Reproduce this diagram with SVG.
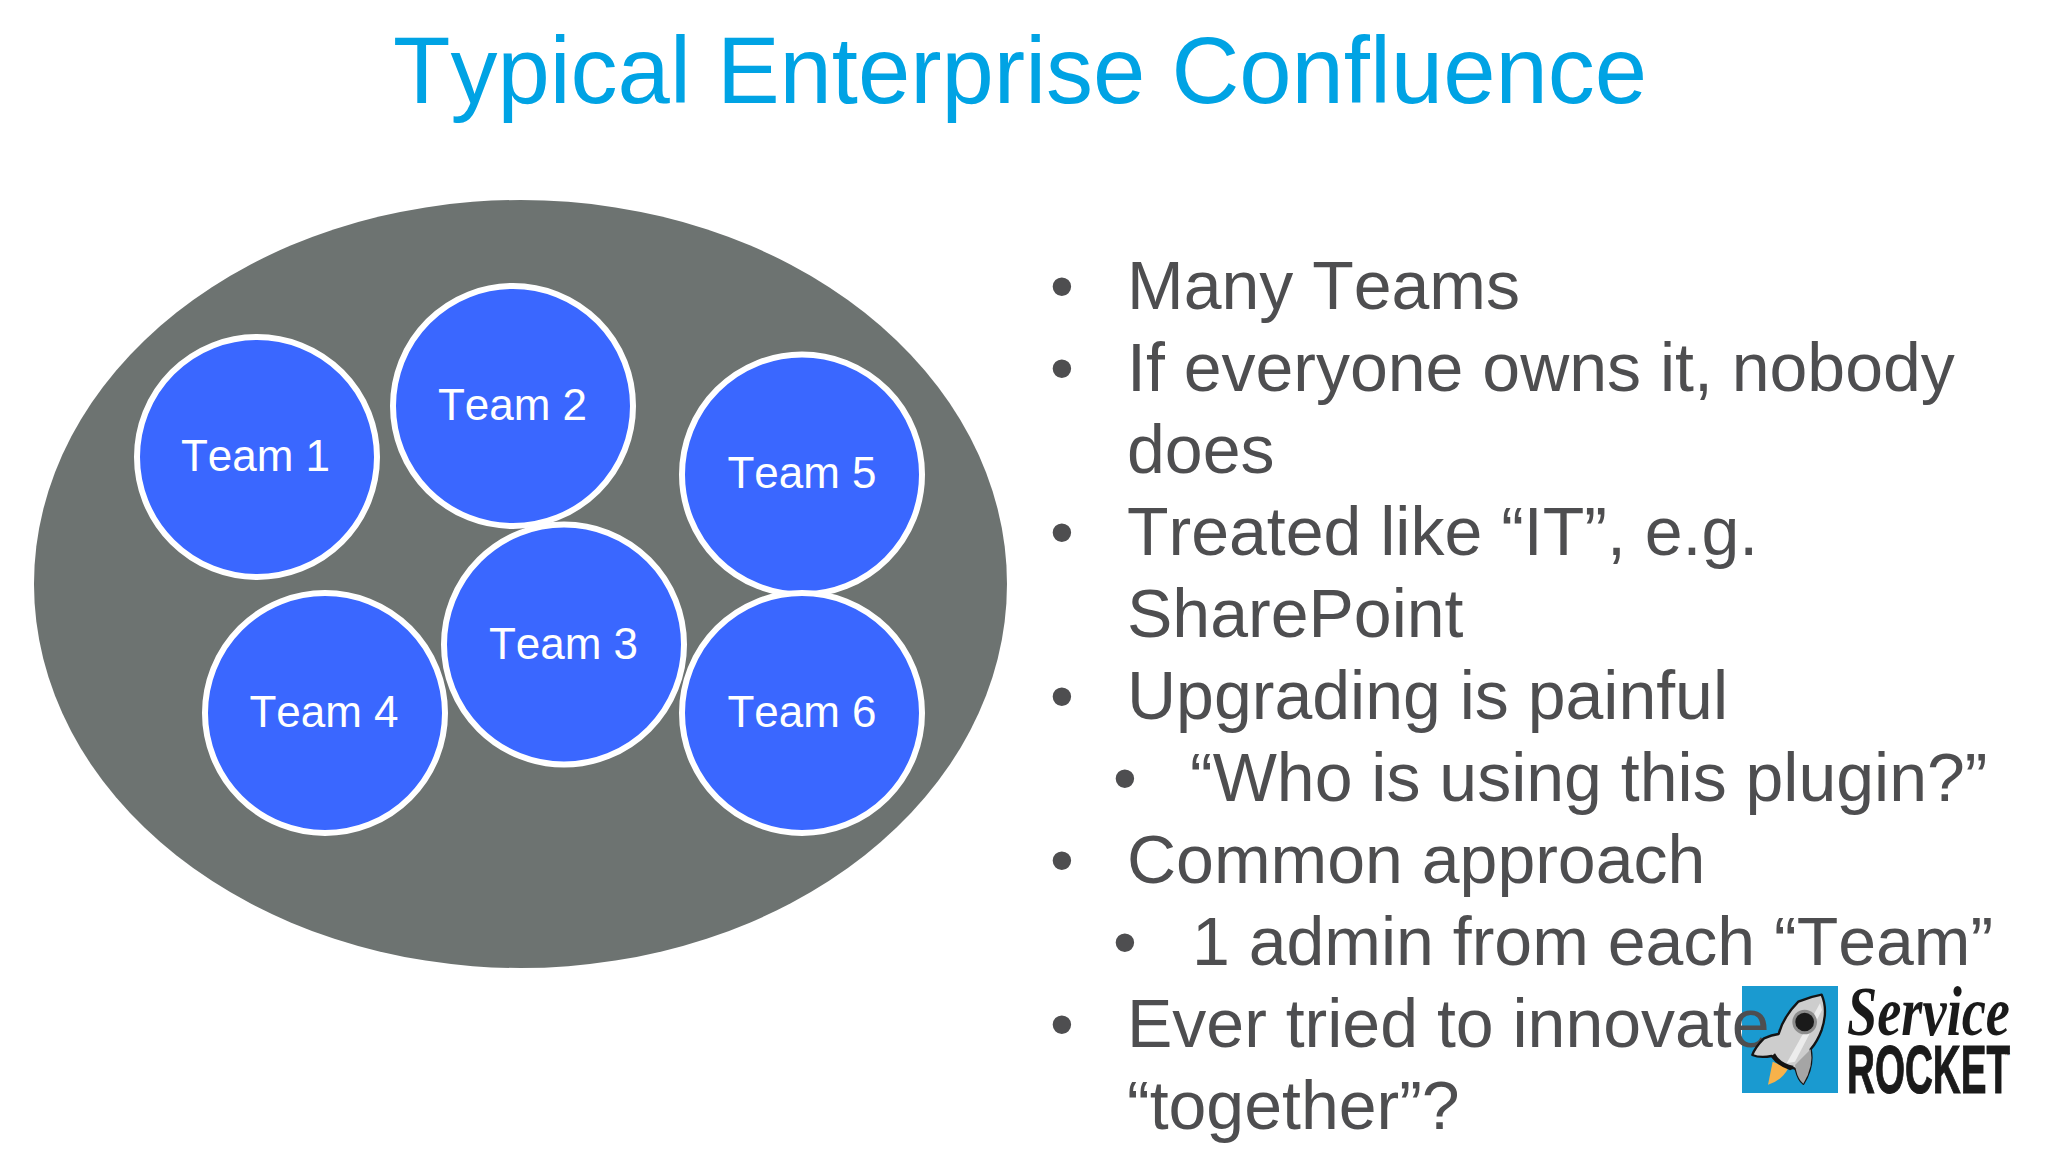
<svg xmlns="http://www.w3.org/2000/svg" width="2048" height="1152" viewBox="0 0 2048 1152">
<style>
text{font-family:"Liberation Sans",Arial,sans-serif}
.title{font-size:94px;fill:#00a3e4;text-anchor:middle;font-kerning:none}
.c{fill:#3a67ff;stroke:#fff;stroke-width:6}
.t{font-size:44px;fill:#fff;text-anchor:middle;font-kerning:none}
.b{font-size:68px;fill:#4e4e50;font-kerning:none}
</style>
<rect width="2048" height="1152" fill="#fff"/>
<text class="title" x="1020" y="103">Typical Enterprise Confluence</text>
<ellipse id="cloud" cx="520.5" cy="584" rx="486.5" ry="384" fill="#6d7371"/>
<g id="team1"><circle class="c" cx="257" cy="457" r="120"/><text class="t" x="255.500" y="471">Team 1</text></g>
<g id="team2"><circle class="c" cx="513" cy="406" r="120"/><text class="t" x="512.500" y="420">Team 2</text></g>
<g id="team3"><circle class="c" cx="564" cy="644.500" r="120"/><text class="t" x="563.500" y="659">Team 3</text></g>
<g id="team4"><circle class="c" cx="325" cy="713" r="120"/><text class="t" x="324" y="727">Team 4</text></g>
<g id="team5"><circle class="c" cx="802" cy="474.500" r="120"/><text class="t" x="802" y="488">Team 5</text></g>
<g id="team6"><circle class="c" cx="802" cy="713" r="120"/><text class="t" x="802" y="727">Team 6</text></g>
<rect id="logo-square" x="1742" y="986" width="96" height="107" fill="#1a9ad0"/>
<g id="bullets">
<text class="b" x="1050" y="309">•</text><text class="b" x="1127" y="309">Many Teams</text>
<text class="b" x="1050" y="391">•</text><text class="b" x="1127" y="391">If everyone owns it, nobody</text>
<text class="b" x="1127" y="473">does</text>
<text class="b" x="1050" y="555">•</text><text class="b" x="1127" y="555">Treated like “IT”, e.g.</text>
<text class="b" x="1127" y="637">SharePoint</text>
<text class="b" x="1050" y="719">•</text><text class="b" x="1127" y="719">Upgrading is painful</text>
<text class="b" x="1113" y="801">•</text><text class="b" x="1190" y="801">“Who is using this plugin?”</text>
<text class="b" x="1050" y="883">•</text><text class="b" x="1127" y="883">Common approach</text>
<text class="b" x="1113" y="965">•</text><text class="b" x="1192" y="965">1 admin from each “Team”</text>
<text class="b" x="1050" y="1047">•</text><text class="b" x="1127" y="1047">Ever tried to innovate</text>
<text class="b" x="1127" y="1129">“together”?</text>
</g>
<g id="logo">
<g transform="translate(1720 960) scale(.3333)">
<path d="M158 305L144 374Q185 362 205 325Z" fill="#f7b24a"/>
<path d="M305 104Q325 150 305 210Q292 245 272 268Q282 320 250 371Q235 360 228 330Q222 320 210 327Q175 315 155 288Q120 295 97 285Q105 262 132 235Q155 225 176 222Q190 170 235 125Q270 110 305 104Z" fill="#cdcdcd" stroke="#141414" stroke-width="7" stroke-linejoin="round"/>
<path d="M155 288Q175 315 210 327L222 318Q180 310 165 280Z" fill="#141414"/>
<path d="M272 268Q282 320 250 371Q235 360 228 330L225 315Z" fill="#a5a5a5"/>
<path d="M200 310L300 130L306 150L225 305Z" fill="#ececec"/>
<circle cx="254" cy="186" r="37" fill="#8c8c8c"/><circle cx="254" cy="186" r="28" fill="#1a1a1a"/>
</g>
<text x="1847" y="1035" font-style="italic" font-weight="bold" font-size="70" fill="#1a1a1a" textLength="163" lengthAdjust="spacingAndGlyphs" style="font-family:'Liberation Serif',serif">Service</text>
<text x="1847" y="1092.500" font-weight="bold" font-size="69" fill="#1a1a1a" stroke="#1a1a1a" stroke-width="1.200" textLength="163" lengthAdjust="spacingAndGlyphs">ROCKET</text>
<text x="2004" y="1057" font-size="6" fill="#1a1a1a">™</text>
</g>
</svg>
